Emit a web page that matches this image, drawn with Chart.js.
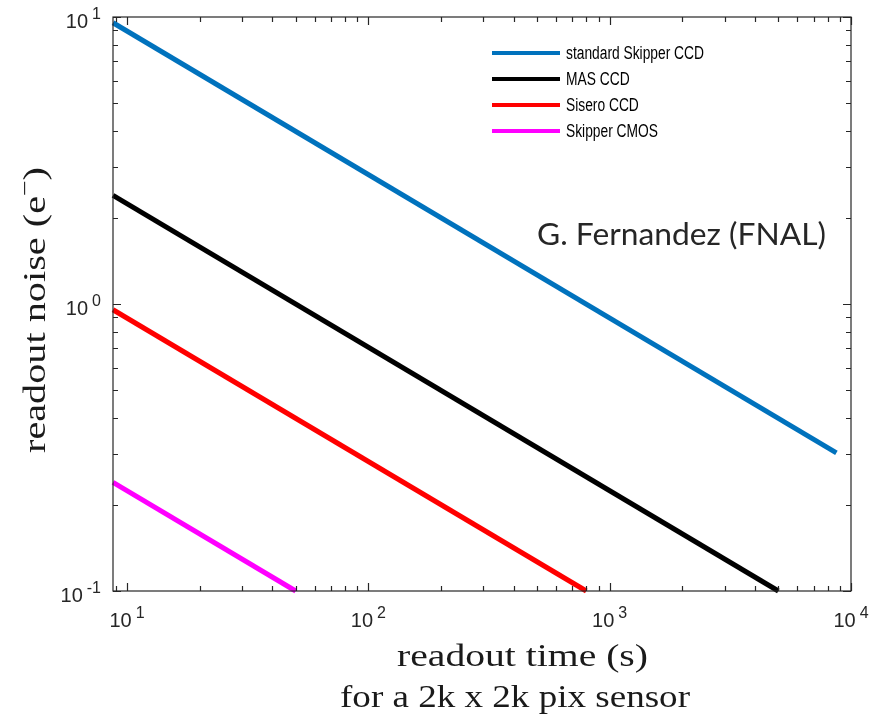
<!DOCTYPE html>
<html>
<head>
<meta charset="utf-8">
<script src="https://cdn.jsdelivr.net/npm/chart.js@4.4.1/dist/chart.umd.min.js"></script>
<style>
  body { margin: 0; background: #ffffff; }
  #wrap { width: 870px; height: 720px; }
</style>
</head>
<body>
<div id="wrap"><canvas id="noiseChart" width="870" height="720"></canvas></div>
<script>
// readout time (s) vs readout noise (e-)
const seriesNames = ['standard Skipper CCD', 'MAS CCD', 'Sisero CCD', 'Skipper CMOS'];
const seriesColors = ['#0072BD', '#000000', '#FF0000', '#FF00FF'];
const skipperTime = [8.75, 8700];
const skipperNoise = [9.55, 0.303];
const masTime = [8.75, 5000];
const masNoise = [2.39, 0.1];
const siseroTime = [8.75, 800];
const siseroNoise = [0.955, 0.1];
const cmosTime = [8.75, 50];
const cmosNoise = [0.239, 0.1];

// axis ranges and tick labels (powers of ten)
const xRange = [8.75, 10000];
const yRange = [0.1, 10];
const xTickExps = [1, 2, 3, 4];
const yTickExps = [-1, 0, 1];
const minorSteps = [2, 3, 4, 5, 6, 7, 8, 9];

const xTitle = 'readout time (s)';
const xSubTitle = 'for a 2k x 2k pix sensor';
const yTitle = 'readout noise (e';
const creditText = 'G. Fernandez (FNAL)';

function toPoints(xs, ys) {
  return xs.map((x, i) => ({ x: x, y: ys[i] }));
}

const allSeries = [
  toPoints(skipperTime, skipperNoise),
  toPoints(masTime, masNoise),
  toPoints(siseroTime, siseroNoise),
  toPoints(cmosTime, cmosNoise)
];

const axisColor = '#262626';
const sansFont = '"Liberation Sans", Arial, sans-serif';
const serifFont = '"Liberation Serif", "Times New Roman", serif';

// draws "10" with a raised exponent
function drawPower(ctx, exp, x, y, align) {
  ctx.font = '20px ' + sansFont;
  const wBase = ctx.measureText('10').width;
  ctx.font = '16px ' + sansFont;
  const expText = String(exp);
  const wExp = ctx.measureText(expText).width;
  const gap = 4;
  const total = wBase + gap + wExp;
  const left = align === 'center' ? x - total / 2 : x - total;
  ctx.textAlign = 'left';
  ctx.textBaseline = 'alphabetic';
  ctx.font = '20px ' + sansFont;
  ctx.fillText('10', left, y);
  ctx.font = '16px ' + sansFont;
  ctx.fillText(expText, left + wBase + gap, y - 9);
}

// text squeezed/stretched horizontally to a target width
function fitText(ctx, text, x, y, width) {
  const w = ctx.measureText(text).width;
  ctx.save();
  ctx.translate(x, y);
  ctx.scale(width / w, 1);
  ctx.textAlign = 'left';
  ctx.fillText(text, 0, 0);
  ctx.restore();
}

const matlabAxes = {
  id: 'matlabAxes',
  afterDatasetsDraw(chart) {
    const ctx = chart.ctx;
    const area = chart.chartArea;
    const xs = chart.scales.x;
    const ys = chart.scales.y;
    ctx.save();
    ctx.strokeStyle = axisColor;
    ctx.fillStyle = axisColor;
    ctx.lineWidth = 1.2;

    // box
    ctx.strokeRect(area.left, area.top, area.right - area.left, area.bottom - area.top);

    // ticks on all four sides, pointing inward
    ctx.beginPath();
    for (let e = 0; e <= 4; e++) {
      [1].concat(minorSteps).forEach(m => {
        const v = m * Math.pow(10, e);
        if (v < xRange[0] || v > xRange[1]) return;
        const px = Math.round(xs.getPixelForValue(v)) + 0.5;
        const len = m === 1 ? 8 : 5;
        ctx.moveTo(px, area.bottom); ctx.lineTo(px, area.bottom - len);
        ctx.moveTo(px, area.top); ctx.lineTo(px, area.top + len);
      });
    }
    for (let e = -1; e <= 1; e++) {
      [1].concat(minorSteps).forEach(m => {
        const v = m * Math.pow(10, e);
        if (v < yRange[0] || v > yRange[1]) return;
        const py = Math.round(ys.getPixelForValue(v)) + 0.5;
        const len = m === 1 ? 8 : 5;
        ctx.moveTo(area.left, py); ctx.lineTo(area.left + len, py);
        ctx.moveTo(area.right, py); ctx.lineTo(area.right - len, py);
      });
    }
    ctx.stroke();

    // tick labels
    xTickExps.forEach(e => {
      drawPower(ctx, e, xs.getPixelForValue(Math.pow(10, e)), area.bottom + 36, 'center');
    });
    yTickExps.forEach(e => {
      drawPower(ctx, e, 101, ys.getPixelForValue(Math.pow(10, e)) + 11, 'right');
    });

    // axis titles
    ctx.fillStyle = '#1a1a1a';
    ctx.textBaseline = 'alphabetic';
    ctx.font = '32px ' + serifFont;
    fitText(ctx, xTitle, 397, 666, 251);
    fitText(ctx, xSubTitle, 340, 707, 350);

    ctx.save();
    ctx.translate(45, 453);
    ctx.rotate(-Math.PI / 2);
    ctx.font = '32px ' + serifFont;
    const w1 = ctx.measureText(yTitle).width;
    const w3 = ctx.measureText(')').width;
    ctx.font = '22px ' + serifFont;
    const w2 = ctx.measureText('\u2212').width;
    ctx.scale(286 / (w1 + w2 + w3), 1);
    ctx.font = '32px ' + serifFont;
    ctx.fillText(yTitle, 0, 0);
    ctx.font = '22px ' + serifFont;
    ctx.fillText('\u2212', w1, -13);
    ctx.font = '32px ' + serifFont;
    ctx.fillText(')', w1 + w2, 0);
    ctx.restore();

    // credit
    ctx.fillStyle = '#262626';
    ctx.font = '31px Lato, sans-serif';
    fitText(ctx, creditText, 537, 245, 289);

    // legend
    ctx.font = '18px ' + sansFont;
    ctx.textBaseline = 'middle';
    const legendScale = 138 / ctx.measureText(seriesNames[0]).width;
    chart.data.datasets.forEach((ds, i) => {
      const y = 53 + i * 26;
      ctx.strokeStyle = ds.borderColor;
      ctx.lineWidth = 4;
      ctx.beginPath();
      ctx.moveTo(492, y); ctx.lineTo(560, y);
      ctx.stroke();
      ctx.fillStyle = '#000000';
      ctx.save();
      ctx.translate(566, y + 1);
      ctx.scale(legendScale, 1);
      ctx.fillText(ds.label, 0, 0);
      ctx.restore();
    });
    ctx.restore();
  }
};

new Chart(document.getElementById('noiseChart'), {
  type: 'line',
  data: {
    datasets: seriesNames.map((name, i) => ({
      label: name,
      data: allSeries[i],
      borderColor: seriesColors[i],
      backgroundColor: seriesColors[i],
      borderWidth: 5,
      pointRadius: 0,
      tension: 0,
      clip: false
    }))
  },
  options: {
    responsive: false,
    animation: false,
    layout: { padding: { left: 105, top: 17, right: 19, bottom: 121 } },
    plugins: {
      legend: { display: false },
      tooltip: { enabled: false }
    },
    scales: {
      x: {
        type: 'logarithmic',
        min: xRange[0],
        max: xRange[1],
        ticks: { display: false },
        grid: { display: false },
        border: { display: false }
      },
      y: {
        type: 'logarithmic',
        min: yRange[0],
        max: yRange[1],
        ticks: { display: false },
        grid: { display: false },
        border: { display: false }
      }
    }
  },
  plugins: [matlabAxes]
});
</script>
</body>
</html>
